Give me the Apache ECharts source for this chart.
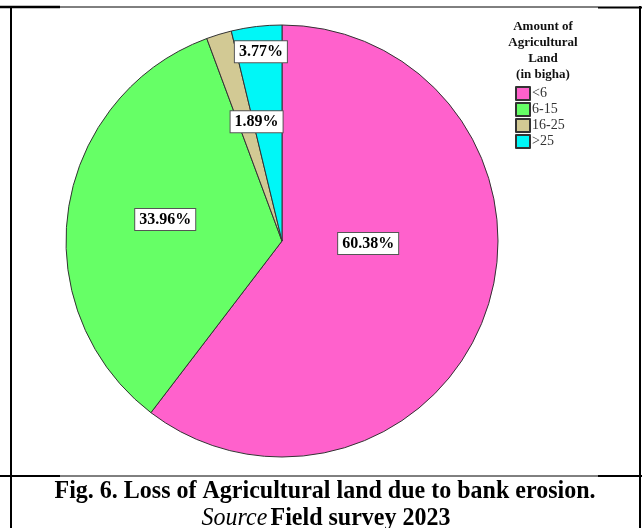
<!DOCTYPE html>
<html>
<head>
<meta charset="utf-8">
<script src="https://cdn.jsdelivr.net/npm/echarts@6/dist/echarts.min.js"></script>
<style>
  html, body { margin: 0; padding: 0; background: #fff; }
  #chart { width: 642px; height: 528px; }
</style>
</head>
<body>
<div id="chart"></div>
<script>
// Land-holding classes (bigha) and their share of agricultural land lost
const categories = ['<6', '6-15', '16-25', '>25'];
const shares = [60.38, 33.96, 1.89, 3.77];

// Slice fills
const sliceColors = ['#ff61cc', '#66ff66', '#d2c994', '#00f7f7'];
// Nudges for the boxed percentage labels, relative to the default inside spot
const labelNudges = [[-19, -33], [-7, -5], [7, -13], [-8, -79]];

const serif = '"Liberation Serif", "Times New Roman", serif';

const chart = echarts.init(document.getElementById('chart'));

const pieData = categories.map((name, i) => ({
  name: name,
  value: shares[i],
  itemStyle: { color: sliceColors[i] },
  label: { offset: labelNudges[i] }
}));

// Table ruling around the figure
function hline(x1, x2, y, w) {
  return { type: 'line', silent: true,
    shape: { x1: x1, y1: y, x2: x2, y2: y },
    style: { stroke: '#000', lineWidth: w } };
}
function vline(x, y1, y2, w) {
  return { type: 'line', silent: true,
    shape: { x1: x, y1: y1, x2: x, y2: y2 },
    style: { stroke: '#000', lineWidth: w } };
}

chart.setOption({
  animation: false,
  backgroundColor: '#fff',
  legend: {
    orient: 'vertical',
    left: 515,
    top: 86,
    itemWidth: 14,
    itemHeight: 13,
    itemGap: 1,
    padding: 0,
    icon: 'rect',
    data: categories,
    textStyle: { fontFamily: serif, fontSize: 14, color: '#333', padding: [0, 0, 0, -3] }
  },
  series: [{
    type: 'pie',
    center: [282, 241],
    radius: 216,
    startAngle: 90,
    clockwise: true,
    avoidLabelOverlap: false,
    itemStyle: { borderColor: '#333', borderWidth: 1 },
    label: {
      show: true,
      position: 'inside',
      formatter: p => p.value.toFixed(2) + '%',
      fontFamily: serif,
      fontWeight: 'bold',
      fontSize: 16,
      color: '#000',
      backgroundColor: '#fff',
      borderColor: '#555',
      borderWidth: 1,
      padding: [3, 4, 2, 4]
    },
    labelLine: { show: false },
    emphasis: { disabled: true },
    data: pieData
  }],
  graphic: [
    hline(0, 60, 7, 2.5),
    hline(60, 598, 7, 1),
    hline(598, 642, 7.5, 2),
    vline(11, 6, 528, 2),
    vline(640, 6, 528, 2),
    hline(0, 60, 476, 2),
    hline(60, 598, 476, 1),
    hline(598, 642, 476, 2),
    {
      type: 'text', silent: true,
      x: 543, y: 19,
      style: {
        text: 'Amount of\nAgricultural\nLand\n(in bigha)',
        fontFamily: serif, fontWeight: 'bold', fontSize: 13,
        lineHeight: 16, fill: '#111', align: 'center', verticalAlign: 'top'
      }
    },
    {
      type: 'text', silent: true,
      x: 325, y: 479, scaleX: 0.96, originX: 0, originY: 0,
      style: {
        text: 'Fig. 6. Loss of Agricultural land due to bank erosion.',
        fontFamily: serif, fontWeight: 'bold', fontSize: 25,
        fill: '#000', align: 'center', verticalAlign: 'top'
      }
    },
    {
      type: 'text', silent: true,
      x: 326, y: 506, scaleX: 0.96, originX: 0, originY: 0,
      style: {
        rich: {
          it: { fontFamily: serif, fontStyle: 'italic', fontSize: 25, fill: '#000' },
          b: { fontFamily: serif, fontWeight: 'bold', fontSize: 25, fill: '#000' }
        },
        text: '{it|Source} {b|Field survey 2023}',
        align: 'center', verticalAlign: 'top'
      }
    }
  ]
});
</script>
</body>
</html>
